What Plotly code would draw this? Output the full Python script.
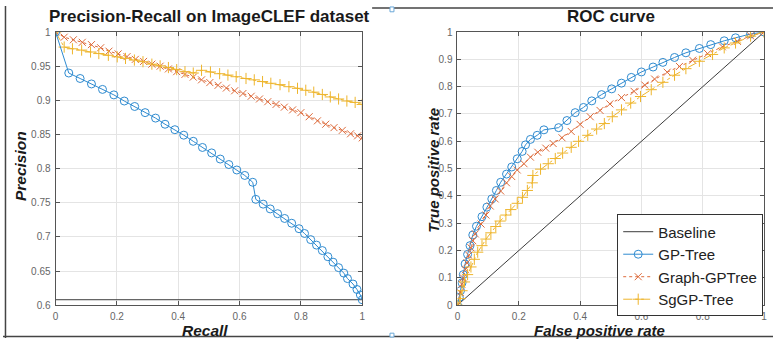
import plotly.graph_objects as go

# ---------------- Precision-Recall data ----------------
pr_gp_recall = [0, 0.043, 0.080, 0.117, 0.153, 0.190, 0.224, 0.258, 0.292, 0.326, 0.357, 0.389, 0.418,
                0.449, 0.479, 0.509, 0.537, 0.565, 0.591, 0.617, 0.643, 0.653, 0.677, 0.700, 0.724,
                0.747, 0.770, 0.794, 0.812, 0.832, 0.851, 0.870, 0.888, 0.905, 0.923, 0.940, 0.952,
                0.970, 0.983, 0.994, 1.0]
pr_gp_precision = [1.0, 0.940, 0.932, 0.924, 0.916, 0.908, 0.899, 0.891, 0.882, 0.874, 0.865, 0.857,
                   0.849, 0.840, 0.831, 0.823, 0.814, 0.806, 0.798, 0.790, 0.780, 0.755, 0.748, 0.741,
                   0.734, 0.727, 0.720, 0.712, 0.705, 0.696, 0.688, 0.680, 0.671, 0.663, 0.655, 0.647,
                   0.639, 0.631, 0.623, 0.615, 0.608]

pr_graph_recall = [0, 0.028, 0.058, 0.087, 0.117, 0.147, 0.174, 0.204, 0.233, 0.260, 0.287, 0.314,
                   0.341, 0.368, 0.395, 0.422, 0.449, 0.476, 0.503, 0.530, 0.557, 0.584, 0.611, 0.638,
                   0.665, 0.692, 0.719, 0.746, 0.773, 0.800, 0.827, 0.854, 0.881, 0.908, 0.935, 0.962,
                   0.985, 1.0]
pr_graph_precision = [1.0, 0.9925, 0.9887, 0.985, 0.9816, 0.977, 0.972, 0.968, 0.964, 0.960, 0.957,
                      0.953, 0.950, 0.946, 0.942, 0.938, 0.934, 0.930, 0.926, 0.922, 0.918, 0.914,
                      0.910, 0.906, 0.902, 0.898, 0.894, 0.890, 0.886, 0.882, 0.876, 0.870, 0.865,
                      0.860, 0.856, 0.851, 0.848, 0.845]

pr_sg_recall = [0, 0.028, 0.055, 0.085, 0.114, 0.141, 0.172, 0.201, 0.228, 0.257, 0.285, 0.314, 0.341,
                0.368, 0.395, 0.422, 0.449, 0.476, 0.505, 0.535, 0.562, 0.589, 0.621, 0.648, 0.675,
                0.702, 0.732, 0.761, 0.789, 0.816, 0.842, 0.870, 0.896, 0.923, 0.950, 0.977, 1.0]
pr_sg_precision = [1.0, 0.978, 0.9755, 0.9736, 0.9708, 0.9685, 0.966, 0.9637, 0.9614, 0.959, 0.9566,
                   0.953, 0.9505, 0.948, 0.945, 0.942, 0.940, 0.944, 0.9416, 0.939, 0.937, 0.9346,
                   0.932, 0.930, 0.9275, 0.925, 0.923, 0.920, 0.9176, 0.9148, 0.912, 0.9086, 0.905,
                   0.902, 0.899, 0.897, 0.894]

pr_baseline_recall = [0, 1]
pr_baseline_precision = [0.608, 0.608]

# ---------------- ROC data ----------------
roc_gp_fpr = [0, 0.006, 0.010, 0.015, 0.019, 0.025, 0.033, 0.041, 0.050, 0.062, 0.080, 0.096, 0.112,
              0.127, 0.141, 0.160, 0.177, 0.195, 0.211, 0.222, 0.238, 0.260, 0.282, 0.330, 0.357,
              0.384, 0.411, 0.438, 0.470, 0.503, 0.535, 0.567, 0.600, 0.638, 0.670, 0.708, 0.745,
              0.789, 0.826, 0.870, 0.907, 0.956, 1.0]
roc_gp_tpr = [0, 0.029, 0.053, 0.082, 0.112, 0.151, 0.186, 0.218, 0.257, 0.289, 0.324, 0.359, 0.389,
              0.420, 0.450, 0.480, 0.506, 0.536, 0.563, 0.587, 0.607, 0.622, 0.642, 0.650, 0.676,
              0.705, 0.724, 0.748, 0.771, 0.792, 0.813, 0.834, 0.854, 0.872, 0.889, 0.907, 0.924,
              0.940, 0.954, 0.968, 0.979, 0.993, 1.0]

roc_graph_fpr = [0, 0.009, 0.014, 0.019, 0.026, 0.031, 0.037, 0.044, 0.050, 0.058, 0.077, 0.093,
                 0.107, 0.123, 0.141, 0.160, 0.177, 0.195, 0.217, 0.238, 0.262, 0.288, 0.312, 0.341,
                 0.371, 0.400, 0.433, 0.465, 0.497, 0.535, 0.576, 0.611, 0.643, 0.684, 0.724, 0.767,
                 0.816, 0.864, 0.913, 0.956, 1.0]
roc_graph_tpr = [0, 0.047, 0.077, 0.100, 0.130, 0.155, 0.183, 0.210, 0.236, 0.261, 0.297, 0.330,
                 0.363, 0.389, 0.418, 0.448, 0.471, 0.495, 0.518, 0.542, 0.560, 0.575, 0.592, 0.613,
                 0.636, 0.662, 0.690, 0.713, 0.737, 0.760, 0.783, 0.806, 0.828, 0.853, 0.874, 0.897,
                 0.921, 0.946, 0.966, 0.986, 1.0]

roc_sg_fpr = [0, 0.009, 0.015, 0.023, 0.033, 0.044, 0.055, 0.066, 0.080, 0.093, 0.109, 0.125, 0.139,
              0.158, 0.174, 0.195, 0.212, 0.228, 0.244, 0.246, 0.271, 0.296, 0.319, 0.343, 0.371,
              0.395, 0.425, 0.454, 0.479, 0.505, 0.535, 0.565, 0.597, 0.632, 0.670, 0.708, 0.745,
              0.789, 0.832, 0.870, 0.907, 0.956, 1.0]
roc_sg_tpr = [0, 0.024, 0.053, 0.085, 0.112, 0.140, 0.168, 0.194, 0.218, 0.242, 0.265, 0.288, 0.308,
              0.330, 0.350, 0.373, 0.395, 0.420, 0.448, 0.475, 0.498, 0.518, 0.537, 0.557, 0.578,
              0.600, 0.622, 0.645, 0.665, 0.690, 0.715, 0.740, 0.764, 0.789, 0.816, 0.842, 0.866,
              0.893, 0.918, 0.942, 0.960, 0.985, 1.0]

roc_baseline_fpr = [0, 1]
roc_baseline_tpr = [0, 1]

pr_ticks_x = [0, 0.2, 0.4, 0.6, 0.8, 1]
pr_ticks_y = [0.6, 0.65, 0.7, 0.75, 0.8, 0.85, 0.9, 0.95, 1]
pr_ticklabels_y = ["0.6", "0.65", "0.7", "0.75", "0.8", "0.85", "0.9", "0.95", "1"]
roc_ticks_x = [0, 0.2, 0.4, 0.6, 0.8, 1]
roc_ticks_y = [0, 0.1, 0.2, 0.3, 0.4, 0.5, 0.6, 0.7, 0.8, 0.9, 1]

# ---------------- styling ----------------
W, H = 776, 344
FONT = "Liberation Sans, Arial, sans-serif"
BLUE = "#2f8bd0"
RED = "#dd6a3a"
YEL = "#eeb52c"
BASE = "#3c3c3c"
AX = "#555555"
GRID = "#e4e4e4"

def px_x(p):
    return p / W

def px_y(p):
    return 1 - p / H

def fmt(v):
    return str(int(v)) if v in (0, 1) else str(v)

fig = go.Figure()

def add_series(x, y, name, color, dash, symbol, xa, ya, show, msize):
    fig.add_trace(go.Scatter(
        x=x, y=y, name=name, mode="lines+markers" if symbol else "lines",
        line=dict(color=color, width=1, dash=dash),
        marker=dict(symbol=symbol, size=msize, color=color, line=dict(color=color, width=1)) if symbol else None,
        xaxis=xa, yaxis=ya, showlegend=show))

# Baseline
add_series(pr_baseline_recall, pr_baseline_precision, "Baseline", BASE, "solid", None, "x", "y", False, 0)
add_series(roc_baseline_fpr, roc_baseline_tpr, "Baseline", BASE, "solid", None, "x2", "y2", True, 0)
# PR curves
add_series(pr_graph_recall, pr_graph_precision, "Graph-GPTree", RED, "dot", "x-thin-open", "x", "y", False, 7)
add_series(pr_sg_recall, pr_sg_precision, "SgGP-Tree", YEL, "dashdot", "cross-thin-open", "x", "y", False, 8)
add_series(pr_gp_recall, pr_gp_precision, "GP-Tree", BLUE, "solid", "circle-open", "x", "y", False, 8)
# ROC curves
add_series(roc_gp_fpr, roc_gp_tpr, "GP-Tree", BLUE, "solid", "circle-open", "x2", "y2", True, 8)
add_series(roc_graph_fpr, roc_graph_tpr, "Graph-GPTree", RED, "dot", "x-thin-open", "x2", "y2", True, 7)
add_series(roc_sg_fpr, roc_sg_tpr, "SgGP-Tree", YEL, "dashdot", "cross-thin-open", "x2", "y2", True, 8)

ydom = [px_y(310), px_y(27)]
common = dict(showline=True, linecolor=AX, linewidth=1, mirror="ticks", ticks="inside", ticklen=4,
              tickcolor=AX, showgrid=True, gridcolor=GRID, gridwidth=1, zeroline=False,
              tickfont=dict(family=FONT, size=10, color="#666666"))

fig.update_layout(
    width=W, height=H, margin=dict(l=0, r=0, t=0, b=0),
    paper_bgcolor="white", plot_bgcolor="white",
    font=dict(family=FONT),
    xaxis=dict(domain=[px_x(53), px_x(362)], range=[0, 1], tickvals=pr_ticks_x,
               ticktext=[fmt(v) for v in pr_ticks_x], anchor="y", ticklabelstandoff=2, **common),
    yaxis=dict(domain=ydom, range=[0.6, 1], tickvals=pr_ticks_y, ticktext=pr_ticklabels_y, anchor="x",
               ticklabelstandoff=2, **common),
    xaxis2=dict(domain=[px_x(458), px_x(767)], range=[0, 1], tickvals=roc_ticks_x,
                ticktext=[fmt(v) for v in roc_ticks_x], anchor="y2", ticklabelstandoff=2, **common),
    yaxis2=dict(domain=ydom, range=[0, 1], tickvals=roc_ticks_y,
                ticktext=[fmt(v) for v in roc_ticks_y], anchor="x2", ticklabelstandoff=2, **common),
    legend=dict(x=px_x(619), y=px_y(216), xanchor="left", yanchor="top", bgcolor="white",
                bordercolor="#333333", borderwidth=1, font=dict(family=FONT, size=15, color="#222222"),
                traceorder="normal", tracegroupgap=0, itemwidth=30),
    showlegend=True,
)

anns = [
    dict(text="<b>Precision-Recall on ImageCLEF dataset</b>", x=px_x(208), y=px_y(11), size=17, angle=0),
    dict(text="<b>ROC curve</b>", x=px_x(613), y=px_y(11), size=17, angle=0),
    dict(text="<b><i>Recall</i></b>", x=px_x(204), y=px_y(336), size=15.5, angle=0),
    dict(text="<b><i>False positive rate</i></b>", x=px_x(601), y=px_y(336.5), size=15, angle=0),
    dict(text="<b><i>Precision</i></b>", x=px_x(17), y=px_y(166), size=15.5, angle=-90),
    dict(text="<b><i>True positive rate</i></b>", x=px_x(433), y=px_y(170), size=15, angle=-90),
]
for a in anns:
    fig.add_annotation(text=a["text"], x=a["x"], y=a["y"], xref="paper", yref="paper",
                       showarrow=False, textangle=a["angle"], xanchor="center", yanchor="middle",
                       font=dict(family=FONT, size=a["size"], color="#1a1a1a"))

# Screenshot frame lines
shapes = [
    dict(type="line", xref="paper", yref="paper", x0=px_x(2.5), x1=px_x(2.5), y0=0, y1=1,
         line=dict(color="#444444", width=1.5)),
    dict(type="line", xref="paper", yref="paper", x0=0, x1=1, y0=px_y(342.5), y1=px_y(342.5),
         line=dict(color="#444444", width=1.5)),
    dict(type="line", xref="paper", yref="paper", x0=px_x(372), x1=1, y0=px_y(2), y1=px_y(2),
         line=dict(color="#444444", width=1.5)),
    dict(type="rect", xref="paper", yref="paper", x0=px_x(390), x1=px_x(394), y0=px_y(6), y1=px_y(1),
         line=dict(color="#6aa8d8", width=1), fillcolor="white"),
    dict(type="rect", xref="paper", yref="paper", x0=px_x(390), x1=px_x(394), y0=px_y(343), y1=px_y(339),
         line=dict(color="#6aa8d8", width=1), fillcolor="white"),
]
fig.update_layout(shapes=shapes)

fig.write_html("out.html")
